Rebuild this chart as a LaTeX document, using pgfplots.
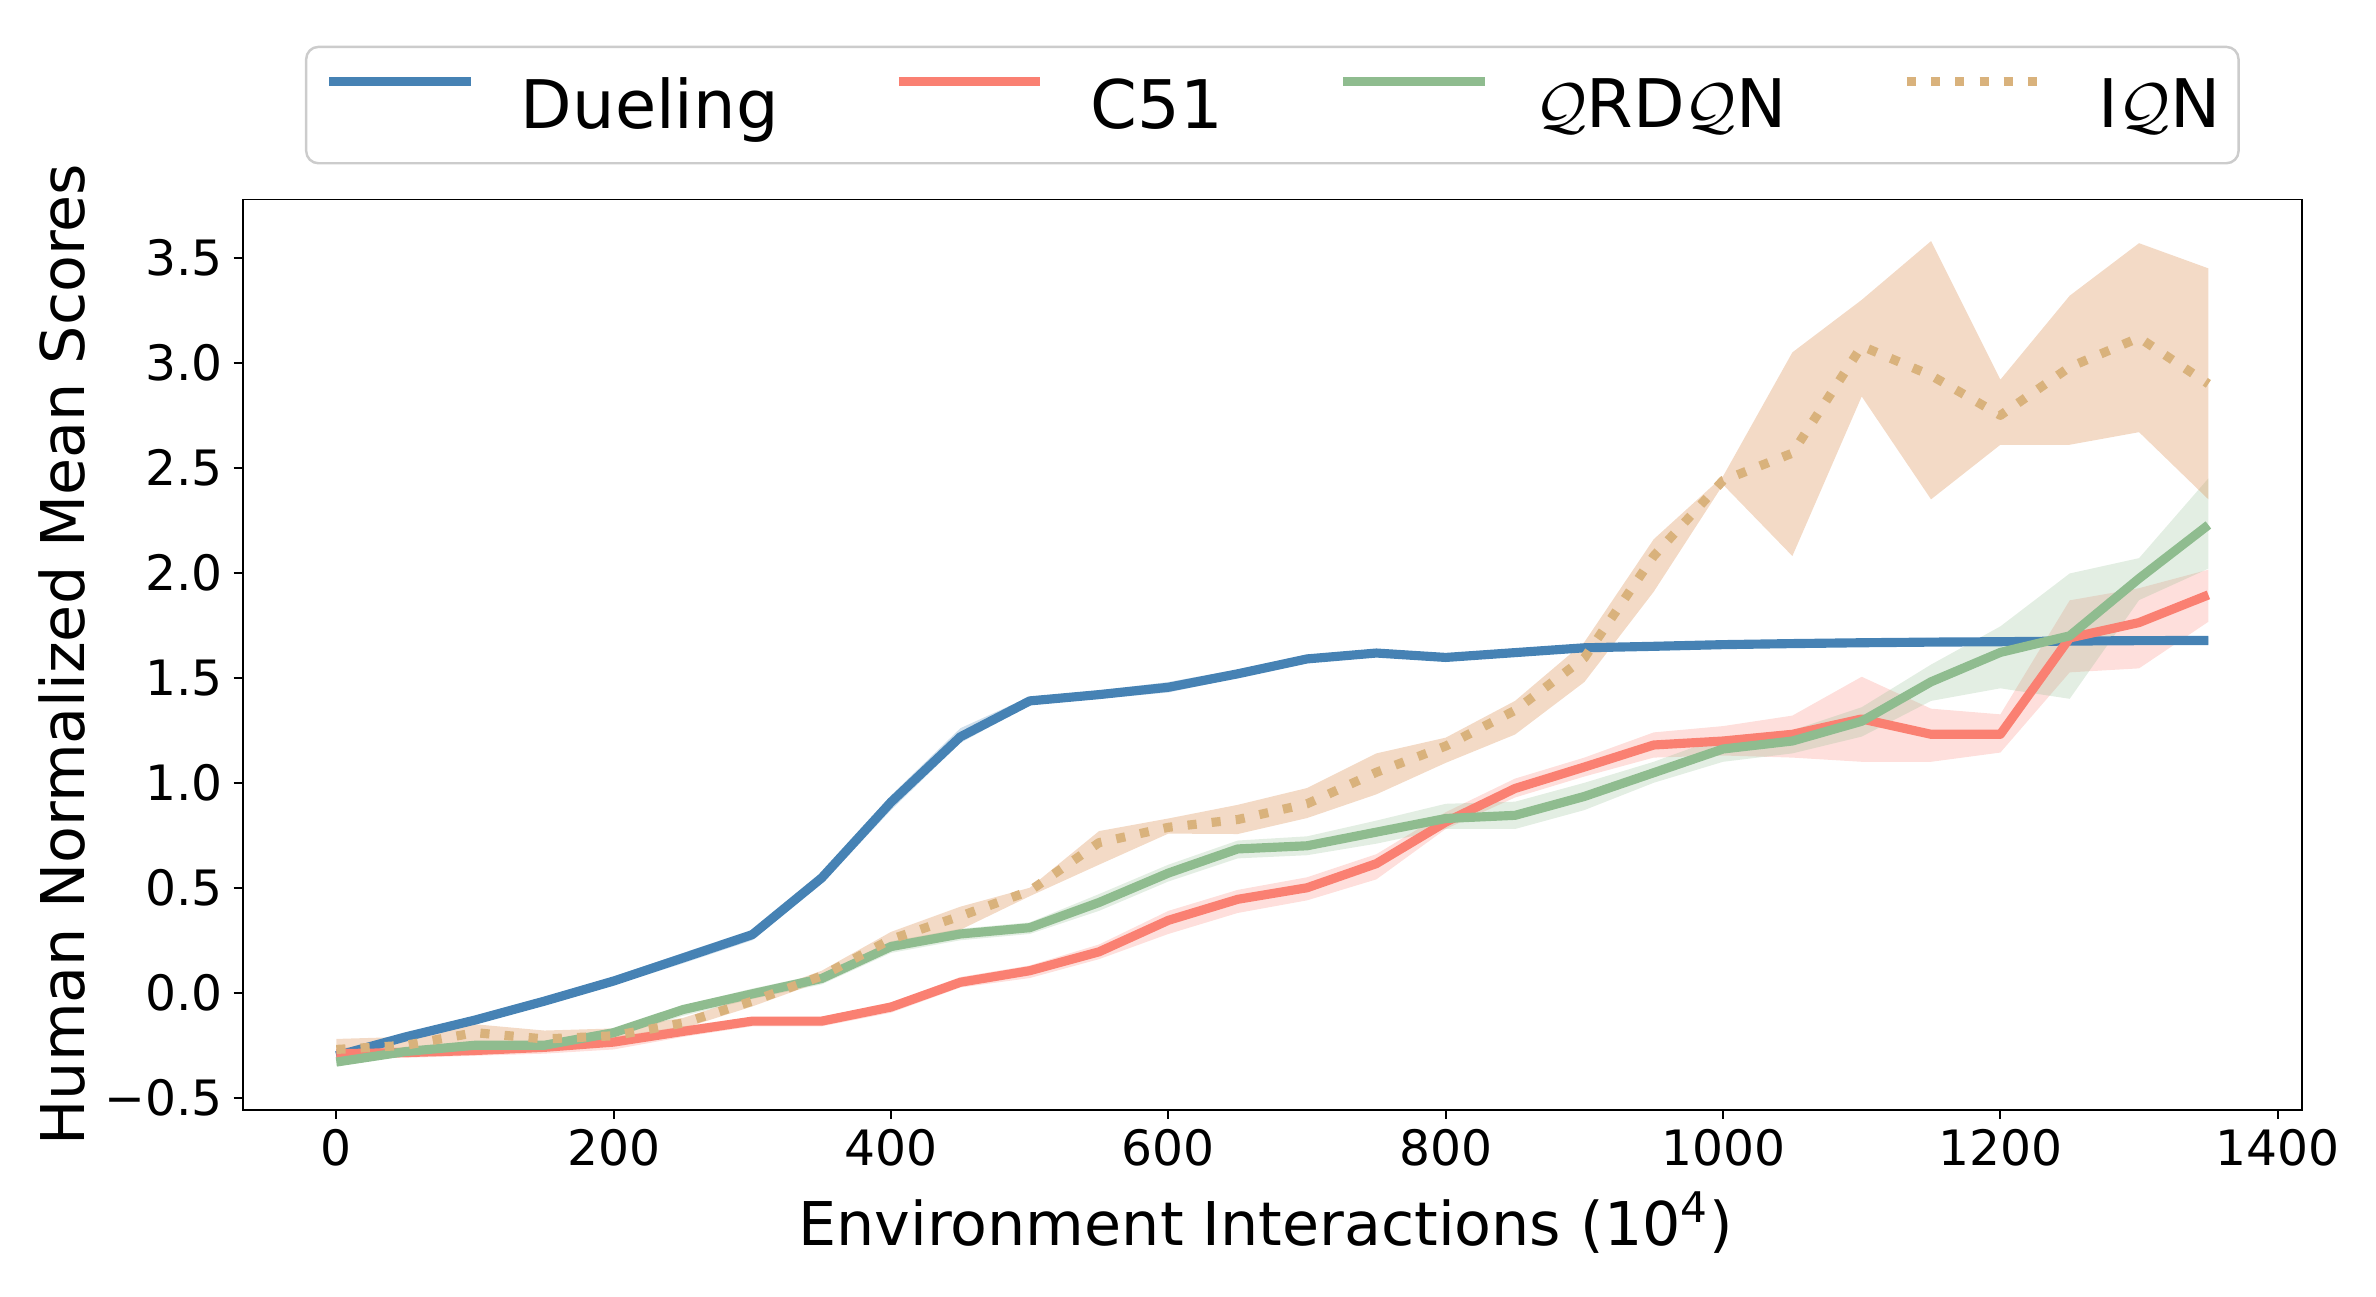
\documentclass[border=0pt]{standalone}
\usepackage{fontspec}
\setmainfont{DejaVu Sans}
\usepackage{pgfplots}
\pgfplotsset{compat=1.18}
\usepgfplotslibrary{fillbetween}
\usepackage{pgfplotstable}

\definecolor{duel}{HTML}{4682B4}
\definecolor{cfo}{HTML}{FA8072}
\definecolor{qr}{HTML}{8FBC8F}
\definecolor{iqn}{HTML}{D9B27C}
\definecolor{iqnband}{HTML}{DD955C}

\pgfplotstableread{
x m lo hi
0 -0.30 -0.32 -0.28
50 -0.21 -0.23 -0.19
100 -0.13 -0.15 -0.11
150 -0.04 -0.06 -0.02
200 0.056 0.036 0.076
250 0.166 0.14 0.19
300 0.277 0.25 0.30
350 0.547 0.52 0.57
400 0.908 0.87 0.94
450 1.219 1.19 1.26
500 1.390 1.37 1.41
550 1.420 1.40 1.44
600 1.455 1.43 1.48
650 1.519 1.50 1.54
700 1.590 1.57 1.61
750 1.618 1.60 1.635
800 1.597 1.58 1.615
850 1.620 1.60 1.64
900 1.643 1.625 1.66
950 1.650 1.635 1.665
1000 1.658 1.645 1.675
1050 1.663 1.65 1.68
1100 1.667 1.65 1.685
1150 1.670 1.655 1.69
1200 1.672 1.655 1.69
1250 1.675 1.66 1.69
1300 1.677 1.66 1.695
1350 1.678 1.66 1.695
}\dueling

\pgfplotstableread{
x m lo hi
0 -0.29 -0.31 -0.26
50 -0.285 -0.31 -0.26
100 -0.275 -0.30 -0.25
150 -0.26 -0.29 -0.23
200 -0.235 -0.27 -0.21
250 -0.184 -0.21 -0.16
300 -0.135 -0.16 -0.115
350 -0.135 -0.16 -0.115
400 -0.068 -0.095 -0.045
450 0.050 0.025 0.075
500 0.105 0.07 0.13
550 0.195 0.16 0.23
600 0.345 0.28 0.39
650 0.445 0.38 0.49
700 0.500 0.44 0.55
750 0.615 0.54 0.66
800 0.813 0.78 0.86
850 0.973 0.93 1.02
900 1.075 1.03 1.12
950 1.180 1.12 1.24
1000 1.199 1.13 1.27
1050 1.231 1.12 1.32
1100 1.304 1.10 1.505
1150 1.231 1.10 1.353
1200 1.231 1.144 1.326
1250 1.690 1.526 1.869
1300 1.763 1.545 1.927
1350 1.895 1.767 2.015
}\cfiftyone

\pgfplotstableread{
x m lo hi
0 -0.33 -0.35 -0.30
50 -0.28 -0.30 -0.26
100 -0.25 -0.27 -0.23
150 -0.25 -0.27 -0.23
200 -0.19 -0.21 -0.17
250 -0.08 -0.11 -0.06
300 -0.005 -0.03 0.02
350 0.068 0.04 0.09
400 0.220 0.19 0.245
450 0.280 0.25 0.305
500 0.310 0.28 0.335
550 0.430 0.39 0.47
600 0.570 0.53 0.61
650 0.685 0.64 0.725
700 0.700 0.655 0.745
750 0.765 0.71 0.82
800 0.830 0.78 0.90
850 0.845 0.78 0.91
900 0.935 0.87 1.00
950 1.048 1.00 1.10
1000 1.161 1.10 1.22
1050 1.199 1.14 1.25
1100 1.293 1.22 1.36
1150 1.481 1.39 1.563
1200 1.621 1.45 1.745
1250 1.700 1.40 1.997
1300 1.973 1.87 2.070
1350 2.228 2.02 2.45
}\qrdqn

\pgfplotstableread{
x m lo hi
0 -0.27 -0.31 -0.22
50 -0.25 -0.29 -0.21
100 -0.19 -0.23 -0.15
150 -0.22 -0.25 -0.18
200 -0.205 -0.24 -0.17
250 -0.144 -0.17 -0.12
300 -0.04 -0.065 -0.015
350 0.08 0.055 0.105
400 0.255 0.22 0.29
450 0.365 0.30 0.41
500 0.485 0.46 0.50
550 0.715 0.61 0.77
600 0.788 0.758 0.83
650 0.825 0.756 0.895
700 0.900 0.832 0.975
750 1.050 0.945 1.140
800 1.175 1.095 1.215
850 1.345 1.230 1.390
900 1.595 1.480 1.670
950 2.080 1.910 2.160
1000 2.44 2.42 2.46
1050 2.57 2.08 3.05
1100 3.08 2.84 3.30
1150 2.94 2.35 3.58
1200 2.75 2.61 2.92
1250 2.98 2.61 3.32
1300 3.12 2.67 3.57
1350 2.90 2.35 3.45
}\iqntab

\begin{document}
\begin{tikzpicture}
\begin{axis}[
  scale only axis, width=676pt, height=298.8pt,
  xmin=-67.5, xmax=1417.5, ymin=-0.557, ymax=3.778,
  xtick={0,200,400,600,800,1000,1200,1400},
  xticklabels={0,200,400,600,800,1000,1200,1400},
  ytick={-0.5,0,0.5,1,1.5,2,2.5,3,3.5},
  yticklabels={−0.5,0.0,0.5,1.0,1.5,2.0,2.5,3.0,3.5},
  tick pos=left,
  tick align=outside, major tick length=3pt,
  tick style={black, line width=0.6pt},
  axis line style={black, line width=0.6pt},
  ticklabel style={font=\fontsize{16}{19}\selectfont},
  xlabel={Environment Interactions (10\textsuperscript{4})},
  ylabel={Human Normalized Mean Scores},
  every axis x label/.style={at={(axis description cs:0.4967,-0.149)}, anchor=base,
    font=\fontsize{19.8}{23}\selectfont},
  every axis y label/.style={at={(axis description cs:-0.088,0.5)}, rotate=90, anchor=center,
    font=\fontsize{19.8}{23}\selectfont},
  legend columns=4,
  legend style={at={(axis description cs:0.5,1)}, anchor=south, yshift=11.5pt,
    draw=black!20, line width=0.8pt, rounded corners=4pt,
    font=\fontsize{22}{26}\selectfont, inner xsep=6pt, inner ysep=9.8pt,
    nodes={inner sep=0pt},
    /tikz/every even column/.append style={column sep=38pt},
    /tikz/every odd column/.append style={column sep=15pt}},
  legend image code/.code={\draw[#1, rounded corners=0pt] (0pt,8pt) -- (46.5pt,8pt);},
]
% bands
\addplot[name path=dhi, draw=none, forget plot] table[x=x,y=hi]{\dueling};
\addplot[name path=dlo, draw=none, forget plot] table[x=x,y=lo]{\dueling};
\addplot[fill=duel, fill opacity=0.25, draw=none, forget plot] fill between[of=dhi and dlo];
\addplot[name path=chi, draw=none, forget plot] table[x=x,y=hi]{\cfiftyone};
\addplot[name path=clo, draw=none, forget plot] table[x=x,y=lo]{\cfiftyone};
\addplot[fill=cfo, fill opacity=0.25, draw=none, forget plot] fill between[of=chi and clo];
\addplot[name path=qhi, draw=none, forget plot] table[x=x,y=hi]{\qrdqn};
\addplot[name path=qlo, draw=none, forget plot] table[x=x,y=lo]{\qrdqn};
\addplot[fill=qr, fill opacity=0.25, draw=none, forget plot] fill between[of=qhi and qlo];
\addplot[name path=ihi, draw=none, forget plot] table[x=x,y=hi]{\iqntab};
\addplot[name path=ilo, draw=none, forget plot] table[x=x,y=lo]{\iqntab};
\addplot[fill=iqnband, fill opacity=0.35, draw=none, forget plot] fill between[of=ihi and ilo];
% means
\addplot[duel, line width=3pt, line join=round] table[x=x,y=m]{\dueling};
\addlegendentry{Dueling}
\addplot[cfo, line width=3pt, line join=round] table[x=x,y=m]{\cfiftyone};
\addlegendentry{C51}
\addplot[qr, line width=3pt, line join=round] table[x=x,y=m]{\qrdqn};
\addlegendentry{$\mathcal{Q}$RD$\mathcal{Q}$N}
\addplot[iqn, line width=3pt, line join=round, dash pattern=on 3pt off 4.95pt] table[x=x,y=m]{\iqntab};
\addlegendentry{I$\mathcal{Q}$N}
\end{axis}
\path (-79.7pt,-61.2pt) rectangle (700.3pt,364.3pt);
\end{tikzpicture}
\end{document}
